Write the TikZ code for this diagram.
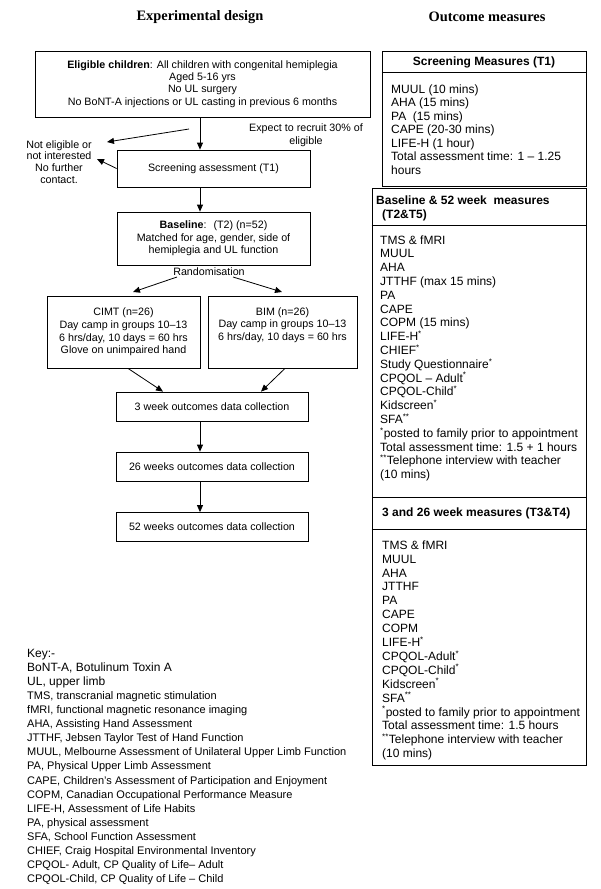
\documentclass[tikz,border=0pt]{standalone}
\usepackage{fontspec}
\setmainfont{Liberation Sans}
\newfontfamily\ttlfont{Liberation Serif}
\usetikzlibrary{arrows.meta}
\newcommand\astA{\textsuperscript{*}}
\newcommand\astB{\textsuperscript{**}}
\newcommand\bigkey{\fontsize{12}{14.1}\selectfont}
\begin{document}
\begin{tikzpicture}[x=1pt,y=-1pt,
  box/.style={draw=black, line width=0.8pt, inner sep=0pt, align=center, font=\fontsize{10.7}{12.3}\selectfont},
  ftxt/.style={inner sep=0pt, align=center, font=\fontsize{10.7}{12.3}\selectfont},
  arr/.style={-{Triangle[length=7pt,width=6pt]}, line width=0.8pt},
  title/.style={font=\ttlfont\fontsize{14.4}{16}\selectfont\bfseries},
  rbox/.style={draw=black, line width=0.8pt, inner sep=0pt},
  hdr/.style={inner sep=0pt, font=\fontsize{12}{14.5}\selectfont\bfseries},
  list/.style={anchor=north west, inner sep=0pt, align=left},
  divider/.style={line width=0.8pt}
]
\fill[white] (0,0) rectangle (600,889);
\useasboundingbox (0,0) rectangle (600,889);

% titles
\node[title] (t1) at (200,17) {Experimental design};
\node[title] (t2) at (487,17) {Outcome measures};

% flowchart
\node[box, minimum width=335pt, minimum height=66pt] (elig) at (202.5,84)
 {\textbf{Eligible children}: All children with congenital hemiplegia\\Aged 5-16 yrs\\No UL surgery\\No BoNT-A injections or UL casting in previous 6 months};
\node[box, minimum width=193pt, minimum height=37pt] (scr) at (213.5,168.5) {Screening assessment (T1)};
\node[box, minimum width=193pt, minimum height=53pt] (base) at (213.5,238.5)
 {\textbf{Baseline}:~ (T2) (n=52)\\Matched for age, gender, side of\\hemiplegia and UL function};
\node[ftxt] (rand) at (209,272) {Randomisation};
\node[box, minimum width=153pt, minimum height=72pt, font=\fontsize{10.7}{12.6}\selectfont] (cimt) at (123.5,332)
 {CIMT (n=26)\\Day camp in groups 10–13\\6 hrs/day, 10 days = 60 hrs\\Glove on unimpaired hand};
\node[box, minimum width=149pt, minimum height=72pt, font=\fontsize{10.7}{12.6}\selectfont] (bim) at (282.5,332)
 {BIM (n=26)\\Day camp in groups 10–13\\6 hrs/day, 10 days = 60 hrs\\\strut};
\node[box, minimum width=192pt, minimum height=29pt] (w3) at (212,406.5) {3 week outcomes data collection};
\node[box, minimum width=192pt, minimum height=29pt] (w26) at (212,466.5) {26 weeks outcomes data collection};
\node[box, minimum width=192pt, minimum height=29pt] (w52) at (212,527) {52 weeks outcomes data collection};

\node[ftxt, font=\fontsize{10.7}{13}\selectfont] (exp) at (306,135.5) {Expect to recruit 30\% of\\eligible};
\node[ftxt, font=\fontsize{10.7}{11.7}\selectfont] (noel) at (59,162) {Not eligible or\\not interested\\No further\\contact.};

% connector helper coordinates
\coordinate (ax) at (200,0);
\coordinate (ne1s) at (189,129);
\coordinate (ne1e) at (107,142);
\coordinate (ne2e) at (97,159);
\coordinate (rls) at (177,277);
\coordinate (rle) at (133,292);
\coordinate (rrs) at (233,277);
\coordinate (rre) at (282,292);
\coordinate (cx) at (128,0);
\coordinate (cx2) at (163,0);
\coordinate (bx) at (285,0);
\coordinate (bx2) at (261,0);

\draw[arr] (elig.south -| ax) -- (scr.north -| ax);
\draw[arr] (ne1s) -- (ne1e);
\draw[arr] (scr.west) -- (ne2e);
\draw[arr] (scr.south -| ax) -- (base.north -| ax);
\draw[arr] (rls) -- (rle);
\draw[arr] (rrs) -- (rre);
\draw[arr] (cimt.south -| cx) -- (w3.north -| cx2);
\draw[arr] (bim.south -| bx) -- (w3.north -| bx2);
\draw[arr] (w3.south -| ax) -- (w26.north -| ax);
\draw[arr] (w26.south -| ax) -- (w52.north -| ax);

% right column: screening
\node[rbox, minimum width=204pt, minimum height=135pt] (sm) at (484,118.5) {};
\coordinate (smd) at (0,72);
\draw[divider] (sm.west |- smd) -- (sm.east |- smd);
\node[hdr] (smh) at (484,62) {Screening Measures (T1)};
\node[list, font=\fontsize{12}{13.5}\selectfont] (sml) at (391,83.8)
 {\strut MUUL (10 mins)\\AHA (15 mins)\\PA~ (15 mins)\\CAPE (20-30 mins)\\LIFE-H (1 hour)\\Total assessment time: 1 – 1.25\\hours};

% baseline & 52 week
\node[rbox, minimum width=214pt, minimum height=309pt] (bm) at (479,342.5) {};
\coordinate (bmd) at (0,225);
\draw[divider] (bm.west |- bmd) -- (bm.east |- bmd);
\node[list, font=\fontsize{12}{14.5}\selectfont\bfseries] (bmh) at (376,193.9)
 {\strut Baseline \& 52 week~ measures\\\hspace*{6pt}(T2\&T5)};
\node[list, font=\fontsize{12}{13.8}\selectfont] (bml) at (380,234.3)
 {\strut TMS \& fMRI\\MUUL\\AHA\\JTTHF (max 15 mins)\\PA\\CAPE\\COPM (15 mins)\\LIFE-H\astA\\CHIEF\astA\\Study Questionnaire\astA\\CPQOL – Adult\astA\\CPQOL-Child\astA\\Kidscreen\astA\\SFA\astB\\\astA posted to family prior to appointment\\Total assessment time: 1.5 + 1 hours\\\astB Telephone interview with teacher\\(10 mins)};

% 3 and 26 week
\node[rbox, minimum width=214pt, minimum height=268pt] (tm) at (479,631) {};
\coordinate (tmd) at (0,529);
\draw[divider] (tm.west |- tmd) -- (tm.east |- tmd);
\node[hdr, anchor=west] (tmh) at (382,513) {3 and 26 week measures (T3\&T4)};
\node[list, font=\fontsize{12}{13.9}\selectfont] (tml) at (382,539.3)
 {\strut TMS \& fMRI\\MUUL\\AHA\\JTTHF\\PA\\CAPE\\COPM\\LIFE-H\astA\\CPQOL-Adult\astA\\CPQOL-Child\astA\\Kidscreen\astA\\SFA\astB\\\astA posted to family prior to appointment\\Total assessment time: 1.5 hours\\\astB Telephone interview with teacher\\(10 mins)};

% key
\node[list, font=\fontsize{11}{14.1}\selectfont] (key) at (27,647.1)
 {\bigkey\strut Key:-\\\bigkey BoNT-A, Botulinum Toxin A\\\bigkey UL, upper limb\\
 TMS, transcranial magnetic stimulation\\fMRI, functional magnetic resonance imaging\\AHA, Assisting Hand Assessment\\JTTHF, Jebsen Taylor Test of Hand Function\\MUUL, Melbourne Assessment of Unilateral Upper Limb Function\\PA, Physical Upper Limb Assessment\\CAPE, Children’s Assessment of Participation and Enjoyment\\COPM, Canadian Occupational Performance Measure\\LIFE-H, Assessment of Life Habits\\PA, physical assessment\\SFA, School Function Assessment\\CHIEF, Craig Hospital Environmental Inventory\\CPQOL- Adult, CP Quality of Life– Adult\\CPQOL-Child, CP Quality of Life – Child};
\end{tikzpicture}
\end{document}
